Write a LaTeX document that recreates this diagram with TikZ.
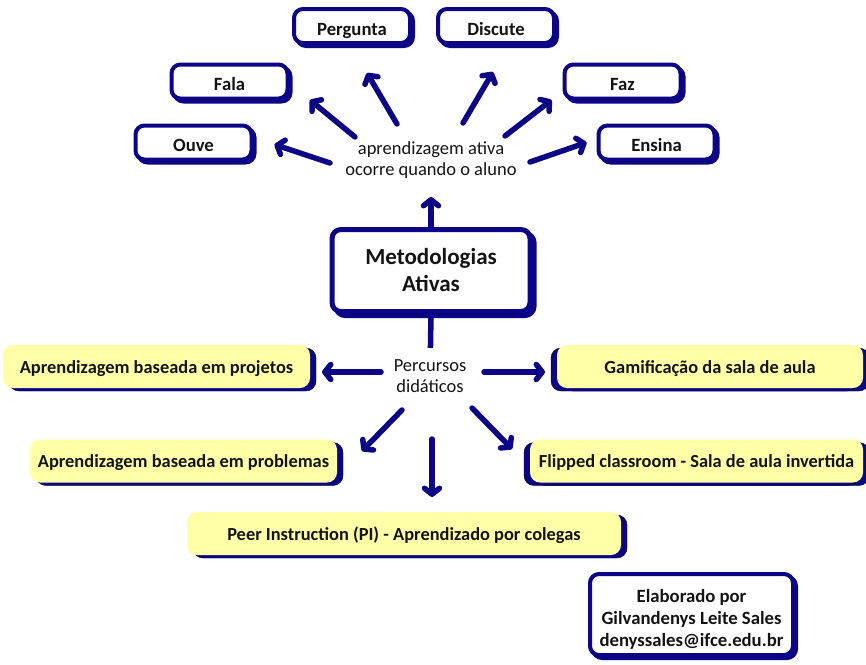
\documentclass[tikz,border=0pt]{standalone}
\usepackage{fontspec}
\setmainfont{Carlito}
\usetikzlibrary{arrows.meta,calc,shadows}

\definecolor{navy}{RGB}{12,6,134}
\definecolor{pale}{RGB}{255,255,168}
\definecolor{ink}{RGB}{20,20,20}

\tikzset{
  acao/.style={draw=navy,line width=4pt,fill=white,rounded corners=9pt,
    minimum width=116pt,minimum height=34pt,text=ink,text height=18.6pt,text depth=0pt,
    font=\fontsize{18.7}{22}\selectfont\bfseries,
    copy shadow={shadow xshift=3pt,shadow yshift=-3pt,draw=navy,fill=navy,line width=4pt}},
  tema/.style={draw=navy,fill=white,rounded corners=9pt,line width=5pt,
    minimum width=198pt,minimum height=82pt,align=center,text=ink,
    font=\fontsize{23}{27}\selectfont\bfseries,
    copy shadow={shadow xshift=4pt,shadow yshift=-4pt,draw=navy,fill=navy,line width=5pt}},
  rotulo/.style={align=center,inner sep=0pt,text=ink,font=\fontsize{18.5}{21}\selectfont},
  trilhaE/.style={fill=pale,rounded corners=10pt,minimum height=43pt,text=ink,
    text height=13.6pt,text depth=0pt,
    font=\fontsize{18.4}{22}\selectfont\bfseries,
    copy shadow={shadow xshift=6pt,shadow yshift=-3pt,fill=navy}},
  trilhaD/.style={trilhaE,copy shadow={shadow xshift=-6pt,shadow yshift=-3pt,fill=navy}},
  seta/.style={navy,line width=5.5pt,line cap=round,
    -{Straight Barb[length=6pt,width=15pt,round]}}
}

\begin{document}
\begin{tikzpicture}[x=1pt,y=-1pt]
  \useasboundingbox (0,0) rectangle (866,664);
  % o aluno
  \node[acao] (pergunta) at (352,26) {Pergunta};
  \node[acao] (discute) at (496,26) {Discute};
  \node[acao] (fala) at (229.5,81.5) {Fala};
  \node[acao] (faz) at (622.5,81.5) {Faz};
  \node[acao] (ouve) at (193.5,142.5) {Ouve};
  \node[acao] (ensina) at (656.5,142.5) {Ensina};
  \node[rotulo] (ativa) at (431,160) {aprendizagem ativa\\ocorre quando o aluno};
  \draw[seta] ($(ativa)+(-101,3)$) -- ($(ouve)+(81,2)$);
  \draw[seta] ($(ativa)+(-76,-23)$) -- ($(fala)+(80.5,18.5)$);
  \draw[seta] ($(ativa)+(-34,-36)$) -- ($(pergunta)+(15,47)$);
  \draw[seta] ($(ativa)+(32,-37)$) -- ($(discute)+(-3,46)$);
  \draw[seta] ($(ativa)+(74,-24)$) -- ($(faz)+(-71,18.5)$);
  \draw[seta] ($(ativa)+(99,2)$) -- ($(ensina)+(-70,0)$);
  % centro
  \node[tema] (meto) at (431,270.5) {Metodologias\\Ativas};
  \draw[seta,shorten >=37pt] (meto.north) -- (ativa.center);
  \node[rotulo] (perc) at (430,376) {Percursos\\didáticos};
  \draw[navy,line width=5.5pt,shorten >=28pt] (meto.south) -- (perc.center);
  % percursos
  \node[trilhaE,minimum width=307pt] (projetos) at (156.5,366.5) {Aprendizagem baseada em projetos};
  \node[trilhaD,minimum width=306pt] (gamif) at (710,366.5) {Gamificação da sala de aula};
  \node[trilhaE,minimum width=307pt] (problemas) at (183.5,461) {Aprendizagem baseada em problemas};
  \node[trilhaD,minimum width=333pt] (flipped) at (696.5,461) {Flipped classroom - Sala de aula invertida};
  \node[trilhaE,minimum width=434pt] (peer) at (404,533.5) {Peer Instruction (PI) - Aprendizado por colegas};
  \draw[seta] ($(perc)+(-49,-4)$) -- ($(projetos)+(165.5,5.5)$);
  \draw[seta] ($(perc)+(54,-4)$) -- ($(gamif)+(-165,5.5)$);
  \draw[seta] ($(perc)+(-28,34)$) -- ($(problemas)+(178.5,-10)$);
  \draw[seta] ($(perc)+(2,63)$) -- ($(peer)+(28,-36.5)$);
  \draw[seta] ($(perc)+(42,32)$) -- ($(flipped)+(-184.5,-12)$);
  % autor
  \node[acao,text height=,text depth=,minimum width=203pt,minimum height=81pt,align=center] (autor) at (691.5,614.5)
    {\rule{0pt}{23pt}Elaborado por\\Gilvandenys Leite Sales\\denyssales@ifce.edu.br};
\end{tikzpicture}
\end{document}
